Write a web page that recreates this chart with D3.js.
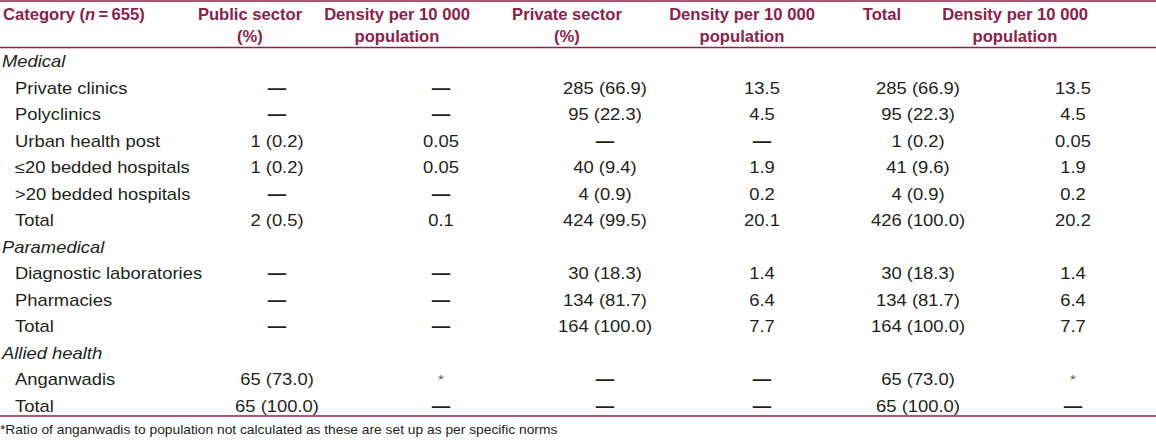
<!DOCTYPE html>
<html>
<head>
<meta charset="utf-8">
<script src="https://cdn.jsdelivr.net/npm/d3@7"></script>
<style>
  html, body { margin: 0; padding: 0; background: #ffffff; }
  svg { display: block; }
</style>
</head>
<body>
<div id="chart"></div>
<script>
// ---------- data ----------
const headerLine1 = ["Public sector", "Density per 10 000", "Private sector", "Density per 10 000", "Total", "Density per 10 000"];
const headerLine2 = ["(%)", "population", "(%)", "population", "", "population"];

const rowLabels = [
  "Medical", "Private clinics", "Polyclinics", "Urban health post", "\u226420 bedded hospitals", ">20 bedded hospitals", "Total",
  "Paramedical", "Diagnostic laboratories", "Pharmacies", "Total",
  "Allied health", "Anganwadis", "Total"
];
const rowIsGroup = [true, false, false, false, false, false, false, true, false, false, false, true, false, false];

const publicN       = ["", "\u2014", "\u2014", "1 (0.2)", "1 (0.2)", "\u2014", "2 (0.5)", "", "\u2014", "\u2014", "\u2014", "", "65 (73.0)", "65 (100.0)"];
const publicDensity = ["", "\u2014", "\u2014", "0.05", "0.05", "\u2014", "0.1", "", "\u2014", "\u2014", "\u2014", "", "*", "\u2014"];
const privateN      = ["", "285 (66.9)", "95 (22.3)", "\u2014", "40 (9.4)", "4 (0.9)", "424 (99.5)", "", "30 (18.3)", "134 (81.7)", "164 (100.0)", "", "\u2014", "\u2014"];
const privateDensity= ["", "13.5", "4.5", "\u2014", "1.9", "0.2", "20.1", "", "1.4", "6.4", "7.7", "", "\u2014", "\u2014"];
const totalN        = ["", "285 (66.9)", "95 (22.3)", "1 (0.2)", "41 (9.6)", "4 (0.9)", "426 (100.0)", "", "30 (18.3)", "134 (81.7)", "164 (100.0)", "", "65 (73.0)", "65 (100.0)"];
const totalDensity  = ["", "13.5", "4.5", "0.05", "1.9", "0.2", "20.2", "", "1.4", "6.4", "7.7", "", "*", "\u2014"];

const footnote = "*Ratio of anganwadis to population not calculated as these are set up as per specific norms";

// ---------- layout ----------
const W = 1156, H = 441;
const maroon = "#8a2249";
const ink = "#231f20";
const bodySX = 1.15;   // horizontal stretch of body text in the reference

const svg = d3.select("#chart").append("svg").attr("width", W).attr("height", H)
  .style("font-family", "'Liberation Sans', Arial, Helvetica, sans-serif");

const columns = [publicN, publicDensity, privateN, privateDensity, totalN, totalDensity];
const colIdx = d3.range(columns.length);

// body column centres and header column centres
const xBody = d3.scaleOrdinal().domain(colIdx).range([277, 441, 605, 762, 918, 1073]);
const xHead = d3.scaleOrdinal().domain(colIdx).range([250, 397, 567, 742, 882, 1015]);

const y = d3.scaleLinear().domain([0, rowLabels.length - 1]).range([67.3, 411.5]);

// rules
svg.append("line").attr("x1", 0).attr("x2", W).attr("y1", 1).attr("y2", 1)
  .attr("stroke", maroon).attr("stroke-width", 1.5);
svg.append("line").attr("x1", 0).attr("x2", W).attr("y1", 47.5).attr("y2", 47.5)
  .attr("stroke", maroon).attr("stroke-width", 1.3);
svg.append("line").attr("x1", 0).attr("x2", W).attr("y1", 416).attr("y2", 416)
  .attr("stroke", maroon).attr("stroke-width", 1.3);

// header
const head = svg.append("g").attr("fill", maroon).attr("font-weight", "bold").attr("font-size", 16.6);
const cat = head.append("text").attr("x", 3).attr("y", 19.5);
cat.append("tspan").text("Category (");
cat.append("tspan").attr("font-style", "italic").text("n");
cat.append("tspan").text("\u2009=\u2009655)");

head.selectAll("text.h1").data(colIdx).join("text").attr("class", "h1")
  .attr("x", d => xHead(d)).attr("y", 19.5).attr("text-anchor", "middle")
  .text(d => headerLine1[d]);
head.selectAll("text.h2").data(colIdx.filter(d => headerLine2[d])).join("text").attr("class", "h2")
  .attr("x", d => xHead(d)).attr("y", 41.5).attr("text-anchor", "middle")
  .text(d => headerLine2[d]);

// body
const body = svg.append("g").attr("fill", ink).attr("font-size", 16);

body.selectAll("text.lab").data(d3.range(rowLabels.length)).join("text").attr("class", "lab")
  .attr("transform", i => `translate(${rowIsGroup[i] ? 2 : 15},${y(i)}) scale(${bodySX},1)`)
  .attr("font-style", i => rowIsGroup[i] ? "italic" : null)
  .text(i => rowLabels[i]);

const cells = [];
colIdx.forEach(c => columns[c].forEach((v, r) => { if (v) cells.push({c, r, v}); }));

body.selectAll("text.cell").data(cells).join("text").attr("class", "cell")
  .attr("text-anchor", "middle")
  .attr("transform", d => d.v === "*"
      ? `translate(${xBody(d.c)},${y(d.r) - 1}) scale(${bodySX},1)`
      : `translate(${xBody(d.c)},${y(d.r)}) scale(${bodySX},1)`)
  .attr("font-size", d => d.v === "*" ? 13 : null)
  .attr("font-weight", d => d.v === "\u2014" ? "bold" : null)
  .attr("fill", d => d.v === "*" ? "#555" : null)
  .text(d => d.v);

// footnote
svg.append("text").attr("transform", `translate(0,433.5) scale(${bodySX},1)`)
  .attr("font-size", 12).attr("fill", ink).text(footnote);
</script>
</body>
</html>
